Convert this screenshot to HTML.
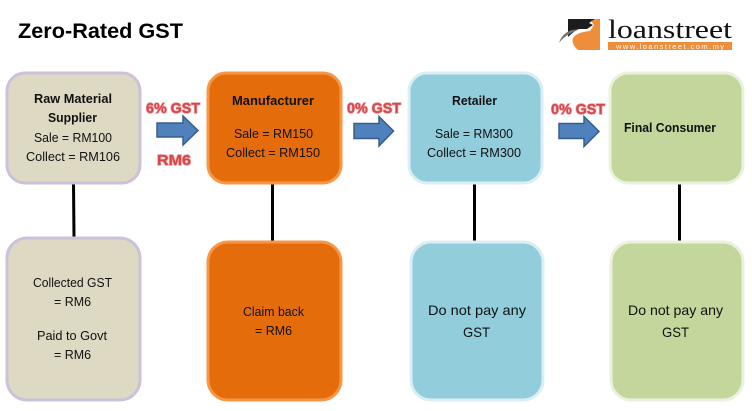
<!DOCTYPE html>
<html>
<head>
<meta charset="utf-8">
<style>
html,body{margin:0;padding:0;background:#fff}
svg{display:block}
text{font-family:"Liberation Sans",sans-serif;fill:#111}
.t{font-size:12.5px}
.b{font-size:12.5px;font-weight:bold}
.g{font-size:15px;font-weight:bold;fill:#d9444a;stroke:#e8a0a0;stroke-width:1.4px;paint-order:stroke}
</style>
</head>
<body>
<svg width="752" height="411" viewBox="0 0 752 411" xmlns="http://www.w3.org/2000/svg">
<rect width="752" height="411" fill="#fff"/>
<text x="18" y="38" font-size="21" font-weight="bold" textLength="165" lengthAdjust="spacingAndGlyphs" style="fill:#000">Zero-Rated GST</text>

<!-- logo -->
<path d="M568 19H595L589 23L593 25L587 29H578Q572 33 568 37Z" fill="#1c1c1c"/>
<path d="M559 43Q562 33 572 30L580 29Q570 33 565 37Q561 40 559 43Z" fill="#777"/>
<path d="M600 19V50H578Q571 44 573 38Q577 32 590 31L594 25L591 21L596 19Z" fill="#ee8d3a"/>
<text x="608" y="38" font-size="26" textLength="124" lengthAdjust="spacingAndGlyphs" style="font-family:'Liberation Serif',serif;fill:#111">loanstreet</text>
<rect x="608" y="42" width="124" height="8" fill="#ee8d3a"/>
<text x="616" y="49" font-size="7.500" textLength="108" lengthAdjust="spacing" style="fill:#fff">www.loanstreet.com.my</text>

<!-- connectors -->
<g stroke="#000" stroke-width="3">
<line x1="73.5" y1="184" x2="74" y2="237"/>
<line x1="272.5" y1="184" x2="272.5" y2="241"/>
<line x1="474.500" y1="184" x2="474.500" y2="243"/>
<line x1="679.500" y1="184" x2="679.500" y2="243"/>
</g>

<!-- top boxes -->
<rect x="7" y="73" width="133" height="110" rx="18" fill="#ddd9c3" stroke="#ccc1da" stroke-width="3"/>
<rect x="208" y="73" width="133" height="110" rx="18" fill="#e46c0a" stroke="#f79646" stroke-width="3"/>
<rect x="409" y="73" width="133" height="110" rx="18" fill="#92cddc" stroke="#dbeef4" stroke-width="3"/>
<rect x="610" y="73" width="133" height="110" rx="18" fill="#c3d69b" stroke="#ebf1de" stroke-width="3"/>

<!-- bottom boxes -->
<rect x="7" y="238" width="133" height="162" rx="20" fill="#ddd9c3" stroke="#ccc1da" stroke-width="3"/>
<rect x="208" y="242" width="133" height="158" rx="20" fill="#e46c0a" stroke="#f79646" stroke-width="3"/>
<rect x="411" y="242" width="132" height="158" rx="20" fill="#92cddc" stroke="#dbeef4" stroke-width="3"/>
<rect x="611" y="242" width="132" height="158" rx="20" fill="#c3d69b" stroke="#ebf1de" stroke-width="3"/>

<!-- arrows -->
<g fill="#4f81bd" stroke="#385d8a" stroke-width="1.5">
<path d="M157 123H183V116L198 130.500L183 145V137H157Z"/>
<path d="M354 123.500H379V116.500L393.500 131L379 146V138.500H354Z"/>
<path d="M559 123.500H584V116.500L599 131.500L584 146.500V138.500H559Z"/>
</g>

<!-- red labels -->
<text class="g" x="146" y="113" textLength="54" lengthAdjust="spacingAndGlyphs">6% GST</text>
<text class="g" x="157" y="165" textLength="34" lengthAdjust="spacingAndGlyphs">RM6</text>
<text class="g" x="347" y="113" textLength="54" lengthAdjust="spacingAndGlyphs">0% GST</text>
<text class="g" x="551" y="114" textLength="54" lengthAdjust="spacingAndGlyphs">0% GST</text>

<!-- top text -->
<text class="b" x="34" y="103" textLength="78" lengthAdjust="spacingAndGlyphs">Raw Material</text>
<text class="b" x="48" y="122" textLength="49" lengthAdjust="spacingAndGlyphs">Supplier</text>
<text class="t" x="34" y="142" textLength="78" lengthAdjust="spacingAndGlyphs">Sale = RM100</text>
<text class="t" x="26" y="161" textLength="94" lengthAdjust="spacingAndGlyphs">Collect  = RM106</text>

<text class="b" x="232" y="105" textLength="82" lengthAdjust="spacingAndGlyphs">Manufacturer</text>
<text class="t" x="234" y="138" textLength="79" lengthAdjust="spacingAndGlyphs">Sale = RM150</text>
<text class="t" x="226" y="157" textLength="94" lengthAdjust="spacingAndGlyphs">Collect  = RM150</text>

<text class="b" x="452" y="105" textLength="45" lengthAdjust="spacingAndGlyphs">Retailer</text>
<text class="t" x="435" y="138" textLength="78" lengthAdjust="spacingAndGlyphs">Sale = RM300</text>
<text class="t" x="427" y="157" textLength="94" lengthAdjust="spacingAndGlyphs">Collect  = RM300</text>

<text class="b" x="624" y="132" textLength="92" lengthAdjust="spacingAndGlyphs">Final Consumer</text>

<!-- bottom text -->
<text class="t" x="33" y="287" textLength="79" lengthAdjust="spacingAndGlyphs">Collected  GST</text>
<text class="t" x="54" y="306" textLength="37" lengthAdjust="spacingAndGlyphs">= RM6</text>
<text class="t" x="37" y="340" textLength="70" lengthAdjust="spacingAndGlyphs">Paid to Govt</text>
<text class="t" x="54" y="359" textLength="37" lengthAdjust="spacingAndGlyphs">= RM6</text>

<text class="t" x="243" y="316" textLength="61" lengthAdjust="spacingAndGlyphs">Claim back</text>
<text class="t" x="255" y="335" textLength="37" lengthAdjust="spacingAndGlyphs">= RM6</text>

<text x="428" y="315" font-size="14" textLength="98" lengthAdjust="spacingAndGlyphs">Do not  pay any</text>
<text x="463" y="337" font-size="14" textLength="27" lengthAdjust="spacingAndGlyphs">GST</text>

<text x="628" y="315" font-size="14" textLength="95" lengthAdjust="spacingAndGlyphs">Do not pay any</text>
<text x="662" y="337" font-size="14" textLength="27" lengthAdjust="spacingAndGlyphs">GST</text>
</svg>
</body>
</html>
